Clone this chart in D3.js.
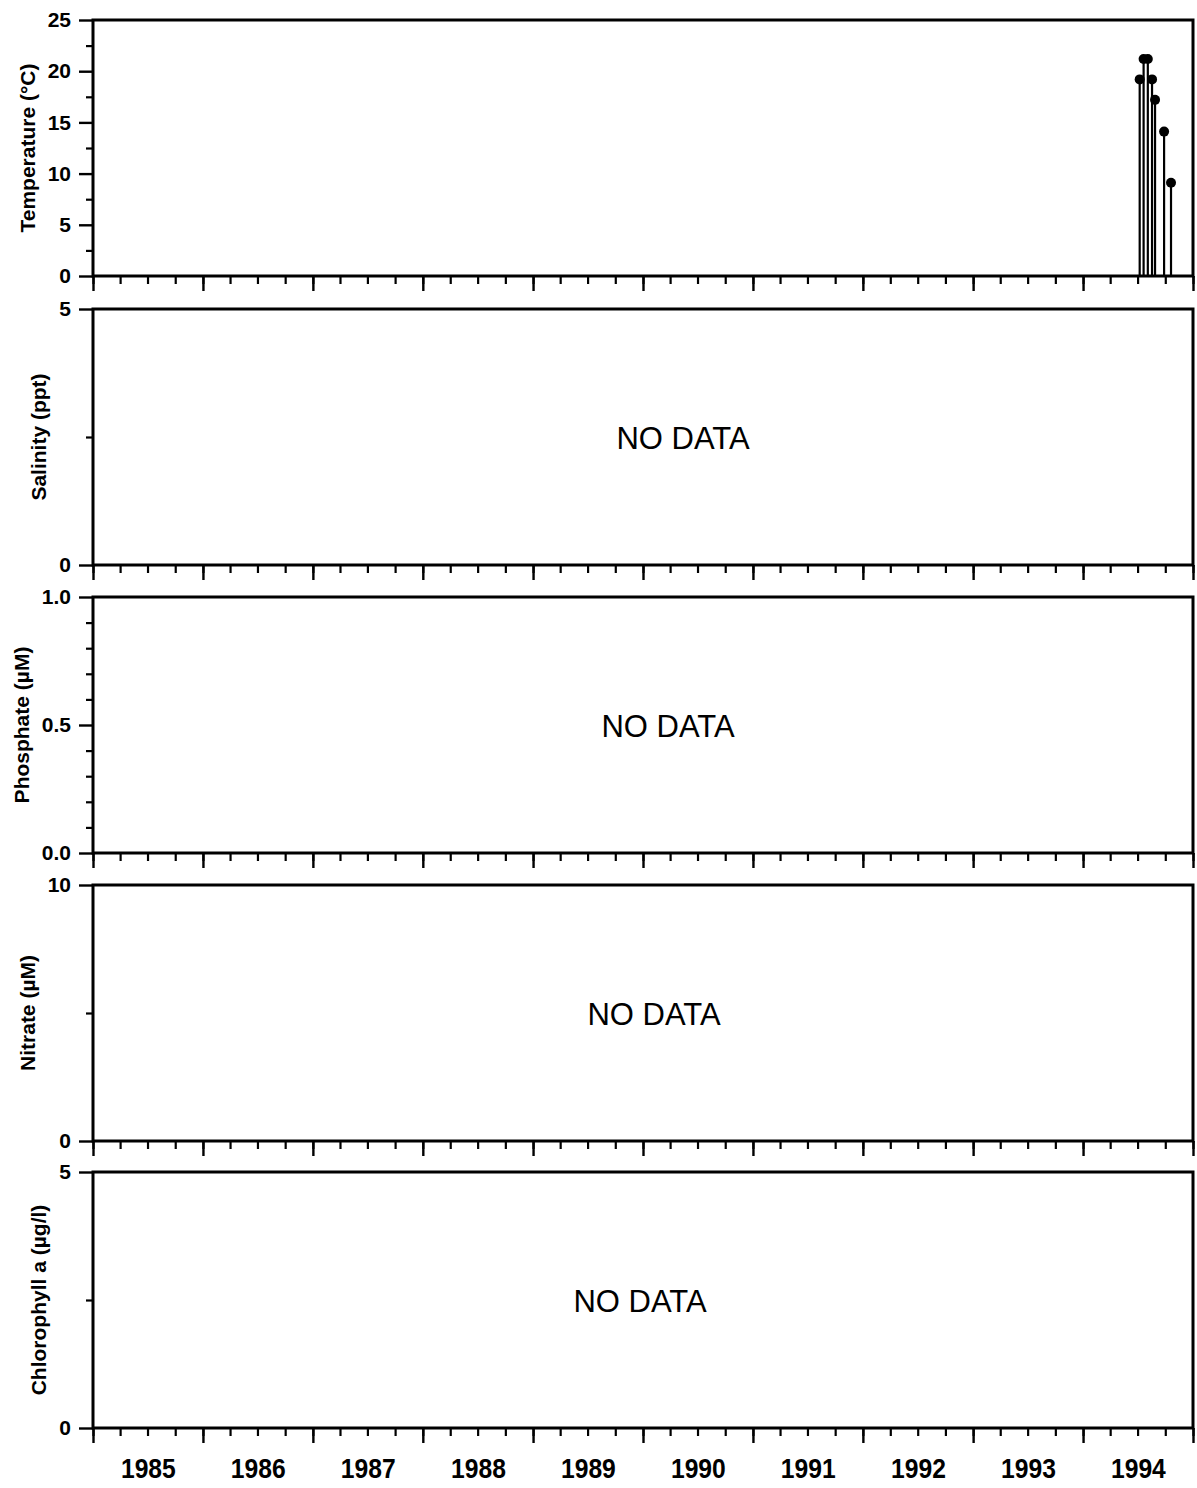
<!DOCTYPE html>
<html><head><meta charset="utf-8">
<script src="https://cdn.jsdelivr.net/npm/d3@7"></script>
<style>body{margin:0;background:#fff}svg{display:block}</style>
</head><body><svg id="c" width="1197" height="1488"></svg>
<script>
// ---- data ----
const yearLabels = ["1985","1986","1987","1988","1989","1990","1991","1992","1993","1994"];
const panelTitles = ["Temperature (°C)","Salinity (ppt)","Phosphate (µM)","Nitrate (µM)","Chlorophyll a (µg/l)"];
const panelMax = [25, 5, 1.0, 10, 5];
const majorTickValues = [[0,5,10,15,20,25],[0,5],[0,0.5,1.0],[0,10],[0,5]];
const minorTickValues = [[2.5,7.5,12.5,17.5,22.5],[2.5],[0.1,0.2,0.3,0.4,0.6,0.7,0.8,0.9],[5],[2.5]];
const tickFormats = ["d","d",".1f","d","d"];
const panelNotes = [null,"NO DATA","NO DATA","NO DATA","NO DATA"];
const tempDates = ["1994-07-08","1994-07-21","1994-08-04","1994-08-18","1994-08-28","1994-09-27","1994-10-20"];
const tempValues = [19.2,21.2,21.2,19.2,17.2,14.1,9.1];

// ---- layout ----
const FONT = "'Liberation Sans', Arial, sans-serif";
const left = 93, right = 1193, panelH = 256;
const panelTops = [20, 309, 597, 885, 1172];
const noteDx = [0, 40, 25, 11, -3];
const parse = d3.utcParse("%Y-%m-%d");
const x = d3.scaleUtc().domain([Date.UTC(1985,0,1), Date.UTC(1995,0,1)]).range([left, right]);
const svg = d3.select("#c");

function styleAxis(g, w) {
  g.select(".domain").remove();
  g.selectAll(".tick line").attr("stroke", "#000").attr("stroke-width", w);
}

panelTops.forEach((top, i) => {
  const bottom = top + panelH;
  const y = d3.scaleLinear().domain([0, panelMax[i]]).range([bottom, top]);
  const g = svg.append("g");

  // x ticks
  const xMinor = g.append("g").attr("transform", `translate(0,${bottom})`)
    .call(d3.axisBottom(x).ticks(d3.utcMonth.every(3)).tickSize(8).tickFormat(""));
  styleAxis(xMinor, 2.2);
  const xMajor = g.append("g").attr("transform", `translate(0,${bottom})`)
    .call(d3.axisBottom(x).ticks(d3.utcYear.every(1)).tickSize(15).tickFormat(""));
  styleAxis(xMajor, 2.4);

  // y ticks
  const yMinor = g.append("g").attr("transform", `translate(${left},0)`)
    .call(d3.axisLeft(y).tickValues(minorTickValues[i]).tickSize(7).tickFormat(""));
  styleAxis(yMinor, 2.2);
  const yMajor = g.append("g").attr("transform", `translate(${left},0)`)
    .call(d3.axisLeft(y).tickValues(majorTickValues[i]).tickSize(14).tickPadding(8)
      .tickFormat(d3.format(tickFormats[i])));
  styleAxis(yMajor, 2.4);
  yMajor.selectAll(".tick text").attr("font-family", FONT).attr("font-weight", "bold")
    .attr("font-size", 21).attr("fill", "#000");

  // frame
  g.append("rect").attr("x", left).attr("y", top).attr("width", right - left).attr("height", panelH)
    .attr("fill", "none").attr("stroke", "#000").attr("stroke-width", 3);

  // title
  const bb = yMajor.node().getBBox();
  g.append("text")
    .attr("transform", `translate(${left + bb.x - 13},${(top + bottom) / 2}) rotate(-90)`)
    .attr("text-anchor", "middle").attr("font-family", FONT).attr("font-weight", "bold")
    .attr("font-size", 21).attr("fill", "#000").text(panelTitles[i]);

  if (panelNotes[i]) {
    g.append("text").attr("x", (left + right) / 2 + noteDx[i]).attr("y", (top + bottom) / 2 + 12)
      .attr("text-anchor", "middle").attr("font-family", FONT).attr("font-size", 31)
      .attr("fill", "#000").text(panelNotes[i]);
  }

  if (i === 0) {
    const pts = tempDates.map((d, k) => ({ d: parse(d), v: tempValues[k] }));
    g.selectAll("line.stem").data(pts).enter().append("line").attr("class", "stem")
      .attr("x1", p => x(p.d)).attr("x2", p => x(p.d))
      .attr("y1", y(0)).attr("y2", p => y(p.v))
      .attr("stroke", "#000").attr("stroke-width", 2.2);
    g.selectAll("circle.pt").data(pts).enter().append("circle").attr("class", "pt")
      .attr("cx", p => x(p.d)).attr("cy", p => y(p.v)).attr("r", 5).attr("fill", "#000");
  }

  if (i === panelTops.length - 1) {
    const mid = yearLabels.map(s => Date.UTC(+s, 6, 2));
    const lab = g.append("g").attr("transform", `translate(0,${bottom})`)
      .call(d3.axisBottom(x).tickValues(mid).tickSize(0).tickPadding(30)
        .tickFormat((d, k) => yearLabels[k]));
    lab.select(".domain").remove();
    lab.selectAll(".tick text").attr("font-family", FONT).attr("font-weight", "bold")
      .attr("font-size", 28).attr("transform", "scale(0.88,1)").attr("fill", "#000");
  }
});
</script></body></html>
